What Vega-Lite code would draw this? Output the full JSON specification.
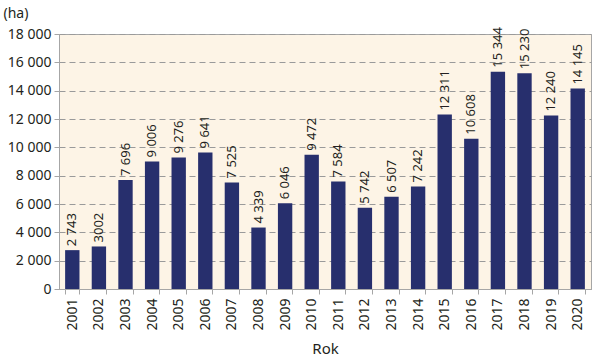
{
  "$schema": "https://vega.github.io/schema/vega-lite/v6.json",
  "autosize": {"type": "none"},
  "width": 532,
  "height": 255,
  "padding": {"left": 59, "top": 34, "right": 9, "bottom": 71},
  "background": "#ffffff",
  "config": {
    "view": {"fill": "#fdf4e6", "stroke": "#a6a6a6", "strokeWidth": 1},
    "font": "Noto Sans"
  },
  "data": {
    "values": [
      {"rok": "2001", "ha": 2743, "label": "2 743"},
      {"rok": "2002", "ha": 3002, "label": "3002"},
      {"rok": "2003", "ha": 7696, "label": "7 696"},
      {"rok": "2004", "ha": 9006, "label": "9 006"},
      {"rok": "2005", "ha": 9276, "label": "9 276"},
      {"rok": "2006", "ha": 9641, "label": "9 641"},
      {"rok": "2007", "ha": 7525, "label": "7 525"},
      {"rok": "2008", "ha": 4339, "label": "4 339"},
      {"rok": "2009", "ha": 6046, "label": "6 046"},
      {"rok": "2010", "ha": 9472, "label": "9 472"},
      {"rok": "2011", "ha": 7584, "label": "7 584"},
      {"rok": "2012", "ha": 5742, "label": "5 742"},
      {"rok": "2013", "ha": 6507, "label": "6 507"},
      {"rok": "2014", "ha": 7242, "label": "7 242"},
      {"rok": "2015", "ha": 12311, "label": "12 311"},
      {"rok": "2016", "ha": 10608, "label": "10 608"},
      {"rok": "2017", "ha": 15344, "label": "15 344"},
      {"rok": "2018", "ha": 15230, "label": "15 230"},
      {"rok": "2019", "ha": 12240, "label": "12 240"},
      {"rok": "2020", "ha": 14145, "label": "14 145"}
    ]
  },
  "encoding": {
    "x": {
      "field": "rok",
      "type": "ordinal",
      "scale": {"paddingInner": 0.46, "paddingOuter": 0.23},
      "axis": {
        "title": "Rok",
        "titleFontSize": 15,
        "titleFontWeight": "normal",
        "titleColor": "#231f20",
        "titleY": 52,
        "titleBaseline": "top",
        "labelAngle": -90,
        "labelAlign": "right",
        "labelBaseline": "middle",
        "labelFontSize": 14,
        "labelColor": "#231f20",
        "labelPadding": 4,
        "tickBand": "extent",
        "tickColor": "#a6a6a6",
        "tickSize": 5,
        "domainColor": "#a6a6a6",
        "grid": false
      }
    },
    "y": {
      "field": "ha",
      "type": "quantitative",
      "scale": {"domain": [0, 18000], "nice": false},
      "axis": {
        "values": [0, 2000, 4000, 6000, 8000, 10000, 12000, 14000, 16000, 18000],
        "labelExpr": "replace(format(datum.value, ','), regexp(',', 'g'), ' ')",
        "labelFontSize": 14,
        "labelColor": "#231f20",
        "labelPadding": 3,
        "tickColor": "#a6a6a6",
        "tickSize": 5,
        "domainColor": "#a6a6a6",
        "grid": true,
        "gridColor": "#9a9a9a",
        "gridDash": [6, 4],
        "gridWidth": 1,
        "title": "(ha)",
        "titleAngle": 0,
        "titleAlign": "left",
        "titleBaseline": "alphabetic",
        "titleX": -56,
        "titleY": -17,
        "titleFontSize": 14,
        "titleFontWeight": "normal",
        "titleColor": "#231f20"
      }
    }
  },
  "layer": [
    {"mark": {"type": "bar", "color": "#272f6d"}},
    {
      "mark": {"type": "text", "angle": -90, "align": "left", "baseline": "middle", "dx": 4, "fontSize": 13, "color": "#231f20"},
      "encoding": {"text": {"field": "label"}}
    }
  ]
}
